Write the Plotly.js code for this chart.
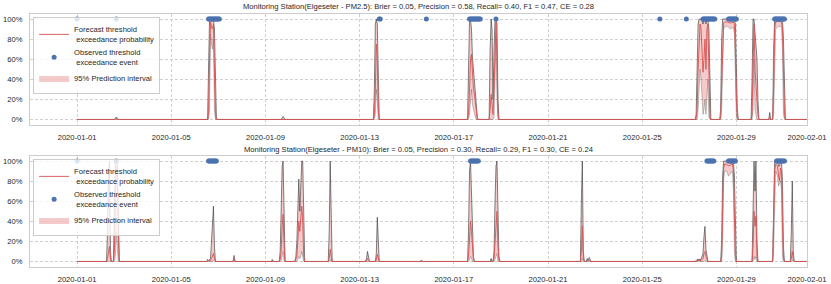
<!DOCTYPE html>
<html>
<head>
<meta charset="utf-8">
<script src="https://cdn.plot.ly/plotly-3.0.1.min.js"></script>
<style>html,body{margin:0;padding:0;background:#fff}#chart{width:831px;height:284px}</style>
</head>
<body>
<div id="chart"></div>
<script>
// ---- Data (hours since 2020-01-01 00:00) ----
const pm25_hour  = [0,38,40,42,133,134,135,136,137,138,139,140,141,142,143,208,210,212,302,303,304,305,306,307,308,398,399,400,401,402,403,404,405,406,407,408,409,420,421,422,423,424,425,426,427,428,429,430,630,631,632,633,634,635,636,637,638,639,640,641,642,643,644,645,646,655,656,657,658,659,660,663,666,669,670,671,672,673,674,687,688,689,690,691,692,693,694,695,705,706,707,709,710,711,712,715,718,719,720,721,722,744];
const pm25_mean  = [0,0,0.01,0,0,0.05,0.6,0.97,0.92,0.9,0.95,0.5,0.05,0,0,0,0.005,0,0,0.05,0.3,0.75,0.6,0.1,0,0,0.05,0.3,0.6,0.65,0.4,0.3,0.25,0.15,0.05,0,0,0,0.1,0.25,0.15,0.05,0.3,0.8,0.97,0.6,0.05,0,0,0.01,0.1,0.5,0.85,0.95,0.9,0.7,0.47,0.6,0.8,0.5,0.9,0.95,0.4,0.02,0,0,0.02,0.4,0.85,0.96,0.97,0.97,0.96,0.97,0.95,0.7,0.2,0.02,0,0,0.05,0.5,0.95,0.5,0.3,0.25,0.05,0,0,0.02,0,0,0.3,0.9,0.97,0.98,0.97,0.9,0.4,0.05,0,0];
const pm25_lower = [0,0,0,0,0,0,0.1,0.85,0.75,0.7,0.8,0.1,0,0,0,0,0,0,0,0,0.05,0.3,0.2,0,0,0,0,0.05,0.2,0.3,0.15,0.1,0.05,0.02,0,0,0,0,0,0,0,0,0.02,0.4,0.8,0.2,0,0,0,0,0,0.1,0.3,0.5,0.4,0.2,0.05,0.1,0.2,0.05,0.3,0.4,0.02,0,0,0,0,0.1,0.6,0.9,0.92,0.93,0.9,0.92,0.85,0.3,0.02,0,0,0,0,0.1,0.6,0.1,0.05,0,0,0,0,0,0,0,0.05,0.6,0.9,0.93,0.92,0.7,0.05,0,0,0];
const pm25_upper = [0,0,0.025,0,0,0.5,1.0,1.0,1.0,1.0,1.0,0.9,0.3,0.02,0,0,0.03,0,0,0.3,0.95,1.0,0.95,0.3,0,0,0.5,1.0,1.0,0.9,0.62,0.5,0.45,0.3,0.15,0.02,0,0,0.7,1.0,0.9,0.2,0.7,1.0,1.0,0.95,0.2,0,0,0.05,0.5,0.95,1.0,1.0,1.0,1.0,0.95,1.0,1.0,0.95,1.0,1.0,0.9,0.2,0,0,0.1,0.8,1.0,1.0,1.0,1.0,1.0,1.0,1.0,0.95,0.5,0.1,0,0,0.4,1.0,1.0,0.85,0.65,0.6,0.2,0,0,0.07,0,0,0.7,1.0,1.0,1.0,1.0,1.0,0.8,0.2,0,0];
const pm25_event = [0,40,134,135,136,137,138,139,140,141,142,143,144,145,308,309,356,400,401,402,403,404,405,406,407,408,409,410,411,427,594,621,638,639,640,641,642,643,644,645,646,647,648,649,650,664,665,666,667,668,669,670,671,672,711,712,713,714,715,716,717,718,719,720,721];

const pm10_hour  = [0,30,31,32,33,34,35,37,38,39,40,41,42,43,132,133,134,136,137,138,139,140,141,159,160,161,198,199,200,206,207,208,209,210,211,212,222,223,224,225,226,227,228,229,230,231,232,256,257,258,259,260,294,295,296,297,298,304,305,306,307,308,350,351,352,398,399,400,401,402,403,404,405,421,422,423,424,425,426,427,428,429,430,431,513,514,515,516,517,519,520,521,522,523,524,630,632,636,638,639,640,641,642,643,656,657,658,659,660,662,664,666,668,669,670,671,672,688,689,690,691,692,693,694,709,710,711,712,714,715,716,717,718,719,720,721,727,728,729,730,731,744];
const pm10_mean  = [0,0,0.03,0.12,0.15,0.02,0,0,0.1,0.6,0.95,0.9,0.2,0,0,0.01,0.005,0.01,0.03,0.06,0.08,0.03,0,0,0.03,0,0,0.005,0,0,0.02,0.1,0.35,0.47,0.15,0,0,0.02,0.05,0.2,0.4,0.3,0.45,0.55,0.4,0.05,0,0,0.03,0.12,0.05,0,0,0.01,0.03,0.01,0,0,0.02,0.07,0.03,0,0,0.005,0,0,0.05,0.25,0.4,0.3,0.08,0.02,0,0,0.01,0,0,0.03,0.2,0.45,0.5,0.15,0.01,0,0,0.1,0.35,0.03,0,0,0.01,0.005,0.01,0.005,0,0,0.01,0.01,0.03,0.08,0.1,0.05,0.01,0,0,0.05,0.5,0.93,0.97,0.97,0.95,0.96,0.97,0.9,0.4,0.05,0,0,0.15,0.5,0.35,0.45,0.05,0,0,0.4,0.9,0.97,0.95,0.85,0.8,0.93,0.9,0.4,0.03,0,0,0.03,0.1,0.02,0,0];
const pm10_lower = [0,0,0,0,0,0,0,0,0,0.05,0.3,0.13,0,0,0,0,0,0,0,0,0.01,0,0,0,0,0,0,0,0,0,0,0.01,0.05,0.1,0,0,0,0,0,0.02,0.05,0.03,0.05,0.1,0.05,0,0,0,0,0.02,0,0,0,0,0,0,0,0,0,0,0,0,0,0,0,0,0,0.02,0.05,0.03,0,0,0,0,0,0,0,0,0.02,0.05,0.08,0,0,0,0,0,0.03,0,0,0,0,0,0,0,0,0,0,0,0,0,0.01,0,0,0,0,0,0.2,0.8,0.9,0.9,0.85,0.88,0.9,0.7,0.1,0,0,0,0,0.05,0.02,0.05,0,0,0,0.1,0.7,0.9,0.85,0.75,0.78,0.8,0.7,0.05,0,0,0,0,0.01,0,0,0];
const pm10_upper = [0,0,0.3,0.9,1.0,0.1,0,0,0.5,1.0,1.0,1.0,0.4,0,0,0.02,0.01,0.03,0.2,0.45,0.55,0.15,0,0,0.06,0,0,0.02,0,0,0.1,0.5,0.95,1.0,0.4,0,0,0.05,0.2,0.5,0.82,0.5,0.9,1.0,1.0,0.2,0,0,0.3,1.0,0.3,0,0,0.03,0.1,0.02,0,0,0.08,0.44,0.1,0,0,0.015,0,0,0.3,0.9,1.0,0.6,0.3,0.05,0,0,0.03,0,0,0.1,0.6,0.95,1.0,0.5,0.05,0,0,0.6,1.0,0.1,0,0,0.03,0.01,0.04,0.02,0,0,0.02,0.02,0.08,0.25,0.35,0.12,0.03,0,0,0.2,0.85,1.0,1.0,1.0,0.99,1.0,1.0,1.0,0.85,0.2,0,0,0.7,1.0,0.7,1.0,0.2,0,0,0.8,1.0,1.0,1.0,0.95,0.95,1.0,1.0,0.8,0.15,0,0,0.3,0.8,0.1,0,0];
const pm10_event = [0,40,134,135,136,137,138,139,140,141,142,401,402,403,404,405,406,407,408,409,642,643,644,645,646,647,648,649,664,665,666,667,668,669,670,671,713,714,715,716,717,718,719,720,721];

const titles = [
  "Monitoring Station(Elgeseter - PM2.5): Brier = 0.05, Precision = 0.58, Recall= 0.40, F1 = 0.47, CE = 0.28",
  "Monitoring Station(Elgeseter - PM10): Brier = 0.05, Precision = 0.30, Recall= 0.29, F1 = 0.30, CE = 0.24"
];
const tickDates = ["2020-01-01","2020-01-05","2020-01-09","2020-01-13","2020-01-17","2020-01-21","2020-01-25","2020-01-29","2020-02-01"];
const legendNames = ["Forecast threshold<br> exceedance probability","Observed threshold<br> exceedance event","95% Prediction interval"];

// ---- helpers ----
const T0 = Date.UTC(2020,0,1);
function toDate(h){ return new Date(T0 + h*3600e3).toISOString().slice(0,19).replace('T',' '); }

const RED = 'rgb(216,84,84)';
const FILL = 'rgba(214,60,60,0.27)';
const GREY = 'rgba(45,45,45,0.65)';
const BLUE = '#4c72b0';

function panelTraces(hours, mean, lower, upper, events, xa, ya, leg){
  const x = hours.map(toDate);
  const xe = events.map(toDate);
  return [
    {x:x, y:lower, xaxis:xa, yaxis:ya, type:'scatter', mode:'lines', line:{width:0, color:FILL}, showlegend:false, hoverinfo:'skip', legend:leg},
    {x:x, y:upper, xaxis:xa, yaxis:ya, type:'scatter', mode:'lines', line:{width:0, color:FILL}, fill:'tonexty', fillcolor:FILL, name:legendNames[2], legendrank:3, legend:leg},
    {x:x, y:upper, xaxis:xa, yaxis:ya, type:'scatter', mode:'lines', line:{width:0.9, color:GREY}, showlegend:false, legend:leg},
    {x:x, y:lower, xaxis:xa, yaxis:ya, type:'scatter', mode:'lines', line:{width:0.7, color:'rgba(80,80,80,0.5)'}, showlegend:false, legend:leg},
    {x:x, y:mean, xaxis:xa, yaxis:ya, type:'scatter', mode:'lines', line:{width:0.9, color:RED}, name:legendNames[0], legendrank:1, legend:leg},
    {x:xe, y:events.map(()=>1), xaxis:xa, yaxis:ya, type:'scatter', mode:'markers', marker:{size:5, color:BLUE}, name:legendNames[1], legendrank:2, legend:leg}
  ];
}

const data = [].concat(
  panelTraces(pm25_hour, pm25_mean, pm25_lower, pm25_upper, pm25_event, 'x', 'y', 'legend'),
  panelTraces(pm10_hour, pm10_mean, pm10_lower, pm10_upper, pm10_event, 'x2', 'y2', 'legend2')
);

const FONT = {family:'Liberation Sans, Arial, sans-serif', size:7.6, color:'#262626'};
function xax(anchor){
  return {anchor:anchor, type:'date', range:['2019-12-30','2020-02-01'], tickvals:tickDates, ticktext:tickDates,
    showgrid:true, gridcolor:'#c4c4c4', gridwidth:0.8, griddash:'3px,2px', zeroline:false,
    showline:true, mirror:true, linecolor:'#cccccc', linewidth:1,
    ticks:'outside', ticklen:5, tickcolor:'rgba(0,0,0,0)', tickfont:FONT, fixedrange:true};
}
function yax(anchor, dom){
  return {anchor:anchor, domain:dom, range:[-0.055,1.05], tickvals:[0,0.2,0.4,0.6,0.8,1.0], tickformat:'.0%',
    showgrid:true, gridcolor:'#c4c4c4', gridwidth:0.8, griddash:'3px,2px', zeroline:false,
    showline:true, mirror:true, linecolor:'#cccccc', linewidth:1,
    ticks:'outside', ticklen:5, tickcolor:'rgba(0,0,0,0)', tickfont:FONT, fixedrange:true};
}
function leg(ytop){
  return {x:0.004, y:ytop, xanchor:'left', yanchor:'top', bgcolor:'rgba(255,255,255,0.8)', bordercolor:'#cccccc', borderwidth:1,
    font:FONT, itemwidth:30, tracegroupgap:0, traceorder:'normal'};
}

const layout = {
  width:831, height:284, margin:{l:30, r:24, t:0, b:0}, paper_bgcolor:'#fff', plot_bgcolor:'#fff',
  showlegend:true, font:FONT,
  xaxis:xax('y'), yaxis:yax('x',[1-125/284, 1-14/284]),
  xaxis2:xax('y2'), yaxis2:yax('x2',[1-267/284, 1-156/284]),
  legend:leg(1-17/284), legend2:leg(1-159/284),
  annotations:[
    {text:titles[0], xref:'paper', yref:'paper', x:0.5, y:1-7/284, xanchor:'center', yanchor:'middle', showarrow:false, font:FONT},
    {text:titles[1], xref:'paper', yref:'paper', x:0.5, y:1-149/284, xanchor:'center', yanchor:'middle', showarrow:false, font:FONT}
  ]
};

Plotly.newPlot('chart', data, layout, {displayModeBar:false, staticPlot:true});
</script>
</body>
</html>
